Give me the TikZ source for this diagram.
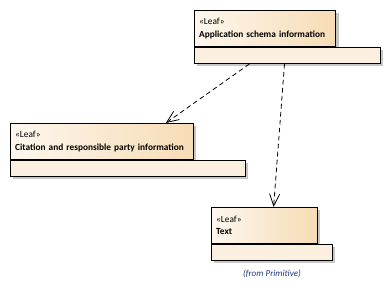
\documentclass[tikz,border=0pt]{standalone}
\usepackage{fontspec}
\setmainfont{Carlito}
\usetikzlibrary{positioning,calc,shadows,arrows.meta}
\definecolor{leafleft}{HTML}{FDF7EE}
\definecolor{leafright}{HTML}{F6DCB5}
\definecolor{leafbody}{HTML}{FBEFDF}
\definecolor{fromblue}{HTML}{1F3A78}
\tikzset{
  leafhead/.style={draw, line width=0.75pt, rectangle, left color=leafleft, right color=leafright,
    minimum height=27pt, inner xsep=3.5pt, align=left, anchor=north west,
    font=\fontsize{7}{9.5}\selectfont,
    drop shadow={shadow xshift=2pt, shadow yshift=-2pt, fill=black!22, opacity=1}},
  leafattr/.style={draw, line width=0.75pt, rectangle, fill=leafbody, minimum height=12pt,
    anchor=north west, inner sep=0pt,
    drop shadow={shadow xshift=2pt, shadow yshift=-2pt, fill=black!22, opacity=1}},
  dependency/.style={line width=0.6pt, dash pattern=on 3.5pt off 2.5pt,
    -{Straight Barb[length=9pt, width=7.5pt, line width=0.6pt]}},
}

\begin{document}
\begin{tikzpicture}[x=0.75pt, y=-0.75pt]
      \useasboundingbox (0,0) rectangle (389,288);
      % classes
      \node (app) [leafhead, text width=99pt] at (194,10) {«Leaf»\\\textbf{Application schema information}};
      \node (appattr) [leafattr, minimum width=139.5pt] at (app.south west) {};
      \node (cit) [leafhead, text width=130.25pt] at (10,123) {«Leaf»\\\textbf{Citation and responsible party information}};
      \node (citattr) [leafattr, minimum width=176.25pt] at (cit.south west) {};
      \node (txt) [leafhead, text width=72.5pt] at (211,207) {«Leaf»\\\textbf{Text}};
      \node (txtattr) [leafattr, minimum width=90.75pt] at (txt.south west) {};
      \node (txtfrom) [below=3pt of txtattr, font=\fontsize{6.8}{8}\itshape, text=fromblue] {(from Primitive)};
      % dependencies
      \draw [dependency] ($(appattr.south west)!0.296!(appattr.south east)$) -- ($(cit.north west)!0.847!(cit.north east)$);
      \draw [dependency] ($(appattr.south west)!0.484!(appattr.south east)$) -- ($(txt.north west)!0.585!(txt.north east)$);
\end{tikzpicture}
\end{document}
